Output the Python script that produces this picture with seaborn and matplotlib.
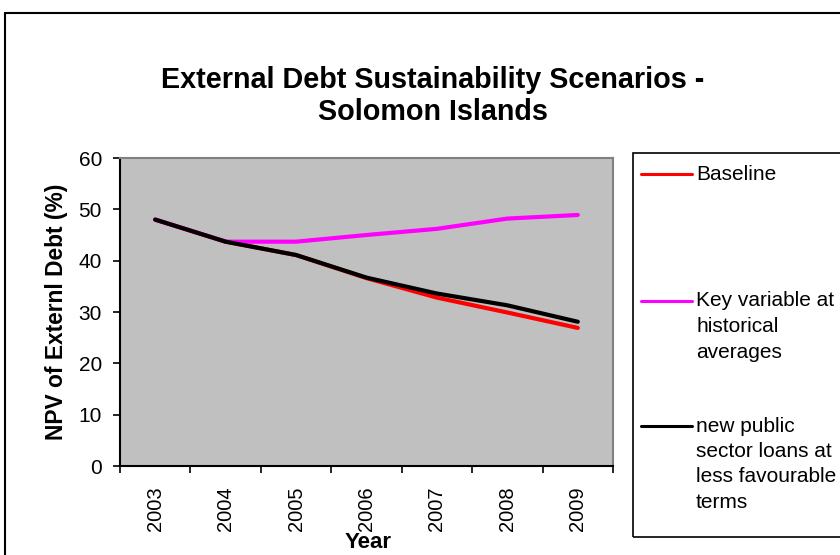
import matplotlib
matplotlib.use("Agg")
import matplotlib.pyplot as plt
from matplotlib.lines import Line2D
from matplotlib.patches import Rectangle
from matplotlib.ticker import FixedLocator
import seaborn as sns
import pandas as pd

# Scenario data (NPV of external debt, % )
years = [2003, 2004, 2005, 2006, 2007, 2008, 2009]
baseline = [48.0, 43.7, 41.1, 36.6, 32.8, 29.9, 26.9]
historical = [48.0, 43.7, 43.7, 45.0, 46.2, 48.2, 48.9]
less_favourable = [48.0, 43.7, 41.1, 36.7, 33.6, 31.3, 28.1]

series_names = [
    "Baseline",
    "Key variable at\nhistorical\naverages",
    "new public\nsector loans at\nless favourable\nterms",
]
series_values = [baseline, historical, less_favourable]
series_colors = ["#ff0000", "#ff00ff", "#000000"]

y_ticks = [0, 10, 20, 30, 40, 50, 60]

sns.set_style("white")
plt.rcParams["font.family"] = ["Liberation Sans", "DejaVu Sans"]
plt.rcParams["text.color"] = "black"
plt.rcParams["axes.labelcolor"] = "black"
plt.rcParams["xtick.color"] = "black"
plt.rcParams["ytick.color"] = "black"

frames = []
for name, vals in zip(series_names, series_values):
    frames.append(pd.DataFrame({"Year": years, "value": vals, "series": name}))
df = pd.concat(frames, ignore_index=True)

W, H = 840, 555
fig = plt.figure(figsize=(W / 100, H / 100), dpi=100)
fig.patch.set_facecolor("white")

# outer chart frame
fig.add_artist(Rectangle((5 / W, -0.05), 1.1, 1 - 13 / H + 0.05,
                         transform=fig.transFigure, fill=False,
                         edgecolor="black", linewidth=1.5))

ax = fig.add_axes([120 / W, 1 - 466 / H, 493 / W, 308 / H])
ax.set_facecolor("#c0c0c0")

sns.lineplot(data=df, x="Year", y="value", hue="series",
             palette=dict(zip(series_names, series_colors)),
             linewidth=3, sort=False, legend=False, ax=ax)

ax.set_xlim(years[0] - 0.5, years[-1] + 0.5)
ax.set_ylim(y_ticks[0], y_ticks[-1])
ax.set_yticks(y_ticks)
ax.set_xticks(years)
ax.set_xticklabels([str(y) for y in years], rotation=90)
ax.xaxis.set_minor_locator(FixedLocator([y - 0.5 for y in years] + [years[-1] + 0.5]))

ax.tick_params(axis="x", which="major", length=0, pad=15, labelsize=14.5,
               colors="black", labelcolor="black")
ax.tick_params(axis="x", which="minor", bottom=True, length=5, width=1.2,
               direction="out", color="black")
ax.tick_params(axis="y", which="major", left=True, length=5, width=1.2,
               direction="out", pad=8, labelsize=15, colors="black", labelcolor="black")

for side in ["left", "bottom"]:
    ax.spines[side].set_color("black")
    ax.spines[side].set_linewidth(1.5)
for side in ["top", "right"]:
    ax.spines[side].set_color("#808080")
    ax.spines[side].set_linewidth(1.5)

ax.set_xlabel("")
ax.set_ylabel("")
fig.text(57 / W, 1 - 312 / H, "NPV of Externl Debt (%)", rotation=90,
         ha="center", va="center", fontsize=16.4, fontweight="bold", color="black")
fig.text(368 / W, 1 - 542 / H, "Year", ha="center", va="center",
         fontsize=16, fontweight="bold", color="black")

fig.text(433 / W, 1 - 80 / H, "External Debt Sustainability Scenarios -",
         ha="center", va="center", fontsize=20.7, fontweight="bold", color="black")
fig.text(433 / W, 1 - 112 / H, "Solomon Islands",
         ha="center", va="center", fontsize=20.7, fontweight="bold", color="black")

# legend panel
fig.add_artist(Rectangle((633 / W, 1 - 537 / H), 0.5, (537 - 153) / H,
                         transform=fig.transFigure, fill=False,
                         edgecolor="black", linewidth=1.2))
entry_y = [174, 301, 426]
line_step = 25.5
for name, color, y0 in zip(series_names, series_colors, entry_y):
    fig.add_artist(Line2D([641 / W, 692 / W], [1 - y0 / H, 1 - y0 / H],
                          transform=fig.transFigure, color=color, linewidth=2.2))
    for i, part in enumerate(name.split("\n")):
        fig.text(696 / W, 1 - (y0 + i * line_step) / H, part,
                 ha="left", va="center", fontsize=15, color="black")

fig.savefig("out.png", dpi=100)
